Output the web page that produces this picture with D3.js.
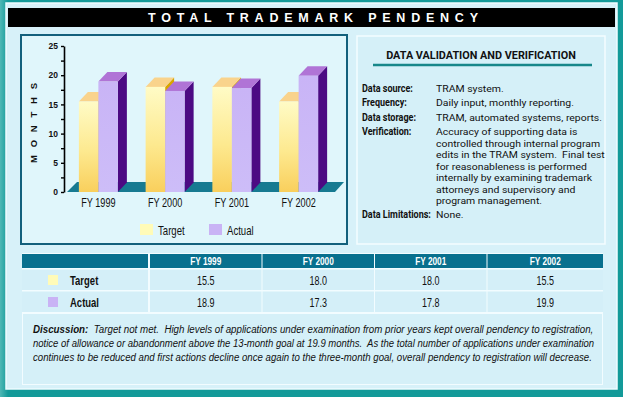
<!DOCTYPE html>
<html><head><meta charset="utf-8">
<script src="https://cdn.jsdelivr.net/npm/d3@7"></script>
<style>body{margin:0;background:#fff}svg{display:block}text{white-space:pre}</style>
</head><body>
<script>
// ---- data ----
const years = ["FY 1999","FY 2000","FY 2001","FY 2002"];
const seriesNames = ["Target","Actual"];
const target = [15.5,18.0,18.0,15.5];
const actual = [18.9,17.3,17.8,19.9];
const yTickValues = [0,2.5,5,7.5,10,12.5,15,17.5,20,22.5,25];
const yTickLabels = ["0","","5","","10","","15","","20","","25"];
const valueFormat = d3.format(".1f");
const title = "TOTAL TRADEMARK PENDENCY";
const axisTitle = "MONTHS";
const panelTitle = "DATA VALIDATION AND VERIFICATION";
const dvLabels = ["Data source:","Frequency:","Data storage:","Verification:","Data Limitations:"];
const dvValues = [
  ["TRAM system."],
  ["Daily input, monthly reporting."],
  ["TRAM, automated systems, reports."],
  ["Accuracy of supporting data is","controlled through internal program","edits in the TRAM system.  Final test","for reasonableness is performed","internally by examining trademark","attorneys and supervisory and","program management."],
  ["None."]
];
const discussionLead = "Discussion:";
const discussionLines = [
  "  Target not met.  High levels of applications under examination from prior years kept overall pendency to registration,",
  "notice of allowance or abandonment above the 13-month goal at 19.9 months.  As the total number of applications under examination",
  "continues to be reduced and first actions decline once again to the three-month goal, overall pendency to registration will decrease."
];

// ---- setup ----
const W=623,H=397;
const svg=d3.select("body").append("svg").attr("width",W).attr("height",H);
const defs=svg.append("defs");
const gT=defs.append("linearGradient").attr("id","gT").attr("x1",0).attr("y1",0).attr("x2",0).attr("y2",1);
gT.append("stop").attr("offset","0%").attr("stop-color","#fffbc6");
gT.append("stop").attr("offset","55%").attr("stop-color","#fde98f");
gT.append("stop").attr("offset","100%").attr("stop-color","#f9cf5c");
const gA=defs.append("linearGradient").attr("id","gA").attr("x1",0).attr("y1",0).attr("x2",0).attr("y2",1);
gA.append("stop").attr("offset","0%").attr("stop-color","#c9b4f6");
gA.append("stop").attr("offset","100%").attr("stop-color","#cdbdf8");
const gF=defs.append("linearGradient").attr("id","gF").attr("x1",0).attr("y1",0).attr("x2",1).attr("y2",0);
gF.append("stop").attr("offset","0%").attr("stop-color","#4fb8b6");
gF.append("stop").attr("offset","100%").attr("stop-color","#139a99");

const SANS="'Liberation Sans', Arial, sans-serif";
function txt(g,x,y,str,o){
  o=o||{};
  const t=g.append("text").attr("x",0).attr("y",0)
    .attr("font-family",o.family||SANS)
    .attr("font-size",o.size||10)
    .attr("font-weight",o.weight||"normal")
    .attr("font-style",o.style||"normal")
    .attr("fill",o.fill||"#111")
    .attr("text-anchor",o.anchor||"start")
    .text(str);
  let sx=o.sx||1;
  if(o.width){const w=t.node().getComputedTextLength(); sx=o.width/w;}
  t.attr("transform",`translate(${x},${y}) scale(${sx},1)`);
  return t;
}

// background / frame
svg.append("rect").attr("width",W).attr("height",H).attr("fill","#139a99");
svg.append("rect").attr("width",8).attr("height",H).attr("fill","url(#gF)");
svg.append("rect").attr("x",6).attr("y",3).attr("width",611).attr("height",386)
  .attr("fill","#d7f1f9").attr("stroke","#eefbff").attr("stroke-width",1.5);
// title bar
svg.append("rect").attr("x",8).attr("y",8).attr("width",607).attr("height",19).attr("fill","#000");
svg.append("text").attr("x",148).attr("y",22).attr("fill","#fff")
  .attr("font-family",SANS).attr("font-weight","bold").attr("font-size",12.5)
  .attr("textLength",330).attr("lengthAdjust","spacing").text(title);

// chart panel
svg.append("rect").attr("x",21).attr("y",35).attr("width",326).attr("height",209)
  .attr("fill","#e0f6fb").attr("stroke","#13607c").attr("stroke-width",2);
// right panel
svg.append("rect").attr("x",357).attr("y",36).attr("width",248).attr("height",208)
  .attr("fill","#d5f0f8").attr("stroke","#f4fdff").attr("stroke-width",1.5);

// ---- chart ----
const y=d3.scaleLinear().domain([0,25]).range([192,46]);
const x=d3.scaleBand().domain(years).range([65,332]);
const barW=19.5, dx=9, dy=9.5;
const xs=d3.scaleBand().domain(seriesNames).range([-barW,barW]);
const cx=d=>x(d)+x.bandwidth()/2;
const chart=svg.append("g");

// floor
const fl=x.range()[0]+2, fr=x.range()[1]+3, y0=y(0);
chart.append("path").attr("fill","#167a91")
  .attr("d",`M${fl},${y0}L${fl+dx+1},${y0-dy-0.5}L${fr+dx},${y0-dy-0.5}L${fr},${y0}Z`);

const rows=years.map((yr,i)=>({yr,vals:[target[i],actual[i]]}));
const faces={Target:{front:"url(#gT)",top:"#f9d38c",side:"#d9a500"},Actual:{front:"url(#gA)",top:"#b074d6",side:"#4c0a83"}};
rows.forEach(r=>{
  seriesNames.forEach((s,j)=>{
    const v=r.vals[j];
    const x0=cx(r.yr)+xs(s), x1=x0+barW, yt=y(v);
    const g=chart.append("g");
    g.append("path").attr("fill",faces[s].side)
      .attr("d",`M${x1},${yt}L${x1+dx},${yt-dy}L${x1+dx},${y0-dy}L${x1},${y0}Z`);
    g.append("path").attr("fill",faces[s].top)
      .attr("d",`M${x0},${yt}L${x0+dx},${yt-dy}L${x1+dx},${yt-dy}L${x1},${yt}Z`);
    g.append("rect").attr("x",x0).attr("y",yt).attr("width",barW).attr("height",y0-yt).attr("fill",faces[s].front);
  });
});

// y axis
const yAxis=d3.axisLeft(y).tickValues(yTickValues).tickSize(3).tickSizeOuter(0).tickPadding(3)
  .tickFormat((d,i)=>yTickLabels[i]);
const ya=svg.append("g").attr("transform","translate(64,0)").call(yAxis);
ya.select(".domain").attr("stroke","#000").attr("stroke-width",1.6);
ya.selectAll(".tick line").attr("stroke","#000").attr("stroke-width",1.4);
ya.selectAll(".tick text").attr("font-family",SANS)
  .attr("font-weight","bold").attr("font-size",8.5).attr("fill","#111");

// axis title
svg.append("text").attr("transform","translate(37,123) rotate(-90)").attr("text-anchor","middle")
  .attr("font-family",SANS).attr("font-weight","bold").attr("font-size",9.5)
  .attr("textLength",80).attr("lengthAdjust","spacing").attr("fill","#111").text(axisTitle);

// category labels
years.forEach(yr=>txt(svg,cx(yr),206.5,yr,{size:12,anchor:"middle",sx:0.76,fill:"#111"}));

// legend
const legX={Target:140,Actual:209};
const legCol={Target:"#fffbb8",Actual:"#c9b3f5"};
seriesNames.forEach(s=>{
  svg.append("rect").attr("x",legX[s]).attr("y",224).attr("width",13).attr("height",11).attr("fill",legCol[s]);
  txt(svg,legX[s]+18,234.5,s,{size:12,sx:0.8,fill:"#111"});
});

// ---- right panel ----
const rp=svg.append("g");
const rf="Roboto, 'Liberation Sans', sans-serif";
txt(rp,481,59,panelTitle,{size:10.5,weight:"bold",anchor:"middle",width:190,family:rf,fill:"#111"});
rp.append("line").attr("x1",373).attr("x2",592).attr("y1",65).attr("y2",65).attr("stroke","#17878a").attr("stroke-width",2.5);
const labelY=[92,106,121,135,218];
const probe=txt(rp,0,0,dvValues[3][1],{size:9.9,family:rf});
const vScale=164/probe.node().getComputedTextLength(); probe.remove();
const probeL=txt(rp,0,0,dvLabels[4],{size:10.3,weight:"bold",family:rf});
const lScale=69/probeL.node().getComputedTextLength(); probeL.remove();
dvLabels.forEach((l,i)=>{
  txt(rp,362,labelY[i],l,{size:10.3,weight:"bold",family:rf,sx:lScale,fill:"#111"});
  dvValues[i].forEach((v,k)=>{
    txt(rp,436,labelY[i]+k*11.5,v,{size:9.9,family:rf,sx:vScale,fill:"#111"});
  });
});

// ---- table ----
const tx=d3.scaleBand().domain(years).range([149,599]);
const tb=svg.append("g");
tb.append("rect").attr("x",22).attr("y",253).attr("width",581).attr("height",132).attr("fill","#f2fcff");
const colX=yr=>tx(yr), colW=(yr,i)=> i===years.length-1 ? 603-tx(yr) : tx.bandwidth();
const rowsY=[{y:254,h:14},{y:269.5,h:20.5},{y:291.5,h:20.5}];
tb.append("rect").attr("x",22).attr("y",rowsY[0].y).attr("width",126).attr("height",rowsY[0].h).attr("fill","#08708e");
[1,2].forEach(r=>tb.append("rect").attr("x",22).attr("y",rowsY[r].y).attr("width",126).attr("height",rowsY[r].h).attr("fill","#d4eff8"));
years.forEach((yr,i)=>{
  const x0=colX(yr)+1, w=colW(yr,i)-1;
  tb.append("rect").attr("x",x0).attr("y",rowsY[0].y).attr("width",w).attr("height",rowsY[0].h).attr("fill","#08708e");
  txt(tb,x0+w/2,rowsY[0].y+11,yr,{size:11.5,weight:"bold",anchor:"middle",sx:0.72,fill:"#fff"});
  [target,actual].forEach((arr,r)=>{
    const ry=rowsY[r+1];
    tb.append("rect").attr("x",x0).attr("y",ry.y).attr("width",w).attr("height",ry.h).attr("fill","#d4eff8");
    txt(tb,x0+w/2,ry.y+15,valueFormat(arr[i]),{size:12.5,anchor:"middle",sx:0.72,fill:"#111"});
  });
});
seriesNames.forEach((s,r)=>{
  const ry=rowsY[r+1];
  tb.append("rect").attr("x",48).attr("y",ry.y+5.5).attr("width",10).attr("height",10).attr("fill",legCol[s]);
  txt(tb,70,ry.y+15,s,{size:12.5,weight:"bold",sx:0.76,fill:"#111"});
});

// discussion
tb.append("rect").attr("x",23).attr("y",314).attr("width",579).attr("height",70).attr("fill","#d5f0f8");
const dEnds=[594,595,592];
discussionLines.forEach((line,i)=>{
  const t=tb.append("text").attr("x",0).attr("y",0)
    .attr("font-family",SANS).attr("font-size",11.5)
    .attr("font-style","italic").attr("fill","#111");
  if(i===0) t.append("tspan").attr("font-weight","bold").text(discussionLead);
  t.append("tspan").text(line);
  const w=t.node().getComputedTextLength();
  t.attr("transform",`translate(33,${333+i*14}) scale(${(dEnds[i]-33)/w},1)`);
});
</script>
</body></html>
